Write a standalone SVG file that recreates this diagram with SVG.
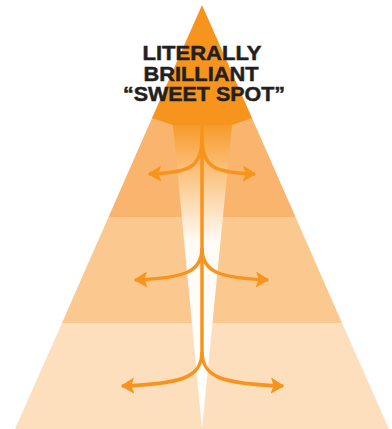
<svg xmlns="http://www.w3.org/2000/svg" width="392" height="429" viewBox="0 0 392 429">
<defs>
<linearGradient id="shaft" x1="0" y1="118" x2="0" y2="429" gradientUnits="userSpaceOnUse">
<stop offset="0" stop-color="#F7941D"/>
<stop offset="0.4" stop-color="#FFFFFF" stop-opacity="0.92"/>
<stop offset="1" stop-color="#FFFFFF"/>
</linearGradient>
<marker id="ah" viewBox="0 0 10 12" refX="9" refY="6" markerWidth="13.5" markerHeight="16.2" markerUnits="userSpaceOnUse" orient="auto">
<path d="M0,0 L10,6 L0,12 L2,6 Z" fill="#F7941D"/>
</marker>
<style>
.br{fill:none;stroke:#F7941D;stroke-width:3.5;stroke-linecap:butt}
.t{font-family:"Liberation Sans",Arial,sans-serif;font-weight:bold;font-size:20px;fill:#231F20;text-anchor:middle;stroke:#231F20;stroke-width:0.5}
</style>
</defs>
<g id="bands">
<polygon points="15,429 62,323 342,323 389,429" fill="#FDDEBD"/>
<polygon points="62,323 108.5,217 295.5,217 342,323" fill="#FBC98F"/>
<polygon points="108.5,217 152,118 252,118 295.5,217" fill="#F9B46E"/>
<polygon points="202,5 152,118 173,125 232,125 252,118" fill="#F7941D"/>
<polygon points="173,125 232,125 202,429" fill="url(#shaft)"/>
</g>
<g id="label">
<text class="t" x="202" y="60" textLength="119" lengthAdjust="spacingAndGlyphs">LITERALLY</text>
<text class="t" x="201" y="81" textLength="115" lengthAdjust="spacingAndGlyphs">BRILLIANT</text>
<text class="t" x="204" y="101" textLength="162" lengthAdjust="spacingAndGlyphs">“SWEET SPOT”</text>
</g>
<g id="connectors">
<path class="br" d="M202,125 L202,355"/>
<path class="br" d="M202,138 C202,167 190,173 149,174" marker-end="url(#ah)"/>
<path class="br" d="M202,138 C202,167 214,173 255,174" marker-end="url(#ah)"/>
<path class="br" d="M202,248 C202,272 185,278 135,280" marker-end="url(#ah)"/>
<path class="br" d="M202,248 C202,272 219,278 268,280" marker-end="url(#ah)"/>
<path class="br" d="M202,352 C202,378 180,384 122,386" marker-end="url(#ah)"/>
<path class="br" d="M202,352 C202,378 224,384 283,386" marker-end="url(#ah)"/>
</g>
</svg>
